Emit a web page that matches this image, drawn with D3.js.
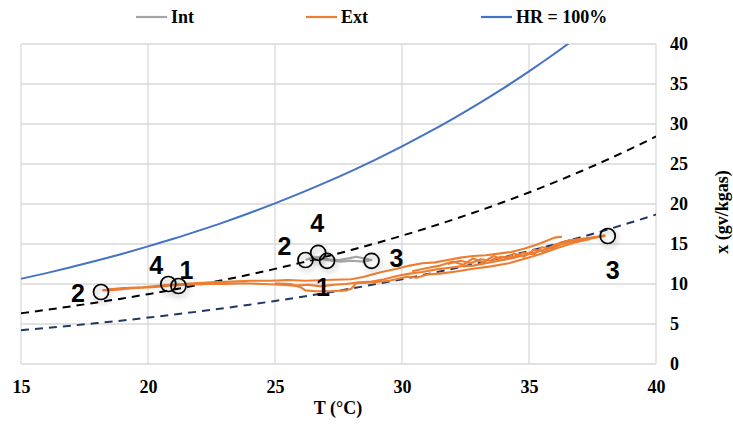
<!DOCTYPE html>
<html>
<head>
<meta charset="utf-8">
<script src="https://cdn.jsdelivr.net/npm/d3@7"></script>
<style>
  html, body { margin: 0; padding: 0; background: #fff; }
  svg { display: block; }
</style>
</head>
<body>
<svg id="chart" width="733" height="425"></svg>
<script>
// ---------- data ----------
const xTicks = [15, 20, 25, 30, 35, 40];
const yTicks = [0, 5, 10, 15, 20, 25, 30, 35, 40];
const legendLabels = ["Int", "Ext", "HR = 100%"];

// saturation curve HR = 100 % : [T, x]
const hr100 = [[15,10.65],[16,11.36],[17,12.13],[18,12.93],[19,13.79],[20,14.70],[21,15.65],[22,16.67],[23,17.74],[24,18.88],[25,20.08],[26,21.35],[27,22.70],[28,24.12],[29,25.62],[30,27.20],[31,28.88],[32,30.65],[33,32.52],[34,34.49],[35,36.58],[36,38.78],[37,41.11]];
// black dashed curve
const hrBlack = [[15,6.34],[16,6.77],[17,7.22],[18,7.70],[19,8.20],[20,8.73],[21,9.30],[22,9.90],[23,10.52],[24,11.19],[25,11.89],[26,12.64],[27,13.42],[28,14.25],[29,15.12],[30,16.04],[31,17.01],[32,18.04],[33,19.11],[34,20.25],[35,21.44],[36,22.70],[37,24.03],[38,25.42],[39,26.89],[40,28.44]];
// navy dashed curve
const hrNavy = [[15,4.22],[16,4.50],[17,4.80],[18,5.11],[19,5.44],[20,5.80],[21,6.17],[22,6.56],[23,6.98],[24,7.42],[25,7.88],[26,8.37],[27,8.88],[28,9.43],[29,10.00],[30,10.60],[31,11.24],[32,11.91],[33,12.61],[34,13.35],[35,14.13],[36,14.95],[37,15.81],[38,16.72],[39,17.68],[40,18.68]];

// interior trajectory (gray)
const intTrace = [[26.2,13.0],[26.5,13.3],[26.8,13.4],[27.1,13.1],[27.5,13.0],[27.9,13.2],[28.2,13.4],[28.5,13.2],[28.8,13.0],[28.5,12.8],[28.0,12.9],[27.6,12.8],[27.2,12.9],[26.9,13.1],[26.6,13.2],[26.3,13.1]];

// exterior trajectories (orange), several days
const extA = [[18.2,9.2],[18.8,9.3],[19.5,9.5],[20.2,9.6],[20.8,9.8],[21.5,9.9],[22.3,10.0],[23.0,10.0],[23.8,10.1],[24.5,10.0],[25.2,9.9],[25.8,9.8],[26.3,9.9],[26.8,9.7],[27.3,9.9],[27.8,10.0],[28.3,10.2],[28.8,10.3],[29.3,10.6],[29.8,11.0],[30.3,11.3],[30.8,11.5],[31.3,11.8],[31.8,12.0],[32.3,12.2],[32.8,12.3],[33.3,12.6],[33.8,12.9],[34.3,13.2],[34.8,13.6],[35.3,14.0],[35.8,14.5],[36.3,15.0],[36.8,15.4],[37.3,15.6],[37.8,15.9],[38.0,16.0]];
const extB = [[25.0,10.1],[25.6,10.0],[26.0,9.6],[26.2,9.2],[26.6,9.1],[27.2,9.1],[27.8,9.2],[28.0,9.4],[28.2,10.1],[28.8,10.2],[29.5,10.4],[30.2,10.9],[30.6,10.8],[31.0,11.2],[31.5,11.3],[32.2,11.6],[32.8,11.9],[33.5,12.2],[34.2,12.6],[35.0,13.3],[35.6,13.9],[36.2,14.6],[36.8,15.2],[37.4,15.6]];
const extC = [[18.4,9.3],[19.0,9.5],[19.8,9.6],[20.5,9.8],[21.0,9.9],[21.8,10.1],[22.5,10.2],[23.3,10.3],[24.0,10.4],[24.8,10.4],[25.5,10.5],[26.2,10.4],[27.0,10.5],[28.0,10.6],[28.5,10.9],[29.2,11.5],[29.8,11.9],[30.3,12.3],[30.8,12.6],[31.3,12.7],[31.8,13.0],[32.3,13.3],[32.8,13.5],[33.3,13.6],[33.8,13.8],[34.3,14.0],[34.8,14.4],[35.3,14.9],[35.7,15.4],[36.0,15.8],[36.3,15.9]];
const extD = [[30.4,11.6],[31.0,12.0],[31.5,12.3],[32.0,12.8],[32.4,12.4],[32.8,13.2],[33.2,12.7],[33.6,13.5],[34.0,13.0],[34.4,13.8],[34.8,13.4],[35.2,14.3],[35.6,14.0],[36.0,14.9],[36.4,15.3],[36.9,15.6],[37.5,15.8],[38.0,16.1]];
const extE = [[31.8,12.5],[32.3,12.9],[32.7,12.6],[33.1,13.1],[33.5,12.9],[33.9,13.4],[34.3,13.3],[34.8,13.9],[35.2,13.7],[35.5,14.6],[35.9,14.4],[36.3,15.1],[36.6,15.5],[37.0,15.4],[37.6,15.9]];
const extTraces = [extA, extB, extC, extD, extE];

// annotated points: [T, x, label, labelDx, labelDy]
const marks = [
  [18.15, 9.0, "2", -23, 1],
  [20.8, 10.0, "4", -12, -19],
  [21.2, 9.75, "1", 8, -16],
  [26.2, 13.0, "2", -21, -14],
  [26.7, 13.9, "4", -1, -30],
  [27.05, 12.9, "1", -4, 26],
  [28.8, 12.9, "3", 25, -3],
  [38.1, 16.0, "3", 5, 34]
];

// ---------- drawing ----------
const svg = d3.select("#chart");
const x = d3.scaleLinear().domain([15, 40]).range([21, 656]);
const y = d3.scaleLinear().domain([0, 40]).range([364, 44]);

const defs = svg.append("defs");
defs.append("clipPath").attr("id", "plotClip")
  .append("rect").attr("x", x(15)).attr("y", y(40)).attr("width", x(40) - x(15)).attr("height", y(0) - y(40));
const f = defs.append("filter").attr("id", "shadow").attr("x", "-60%").attr("y", "-60%").attr("width", "220%").attr("height", "220%");
f.append("feDropShadow").attr("dx", 1.5).attr("dy", 3).attr("stdDeviation", 2.5).attr("flood-color", "#000").attr("flood-opacity", 0.3);

// gridlines
const grid = svg.append("g");
grid.selectAll("line.v").data(xTicks).join("line")
  .attr("x1", d => x(d)).attr("x2", d => x(d)).attr("y1", y(0)).attr("y2", y(40))
  .attr("stroke", "#d9d9d9").attr("stroke-width", 1.3);
grid.selectAll("line.h").data(yTicks).join("line")
  .attr("x1", x(15)).attr("x2", x(40)).attr("y1", d => y(d)).attr("y2", d => y(d))
  .attr("stroke", "#d9d9d9").attr("stroke-width", 1.3);

// axes (labels only)
const font = "'Liberation Serif', 'Times New Roman', serif";
const xAxis = svg.append("g").attr("transform", `translate(0,${y(0)})`)
  .call(d3.axisBottom(x).tickValues(xTicks).tickSize(0).tickPadding(16).tickFormat(d3.format("d")));
const yAxis = svg.append("g").attr("transform", `translate(${x(40)},0)`)
  .call(d3.axisRight(y).tickValues(yTicks).tickSize(0).tickPadding(14).tickFormat(d3.format("d")));
[xAxis, yAxis].forEach(a => {
  a.select(".domain").remove();
  a.selectAll("text").attr("font-family", font).attr("font-weight", "bold").attr("font-size", 18).attr("fill", "#000");
});

svg.append("text").attr("x", 338).attr("y", 414).attr("text-anchor", "middle")
  .attr("font-family", font).attr("font-weight", "bold").attr("font-size", 18).text("T (°C)");
svg.append("text").attr("transform", "translate(724,212) rotate(-90)").attr("text-anchor", "middle")
  .attr("dominant-baseline", "middle")
  .attr("font-family", font).attr("font-weight", "bold").attr("font-size", 18).text("x (gv/kgas)");

// curves
const line = d3.line().x(d => x(d[0])).y(d => y(d[1]));
const smooth = d3.line().x(d => x(d[0])).y(d => y(d[1])).curve(d3.curveMonotoneX);
const plot = svg.append("g").attr("clip-path", "url(#plotClip)");

plot.append("path").datum(hrNavy).attr("d", smooth).attr("fill", "none")
  .attr("stroke", "#203864").attr("stroke-width", 2).attr("stroke-dasharray", "8,6");
plot.append("path").datum(hrBlack).attr("d", smooth).attr("fill", "none")
  .attr("stroke", "#000").attr("stroke-width", 2).attr("stroke-dasharray", "8,6");

plot.selectAll("path.ext").data(extTraces).join("path").attr("class", "ext")
  .attr("d", line).attr("fill", "none").attr("stroke", "#ED7D31").attr("stroke-width", 2.1)
  .attr("stroke-linejoin", "round");
plot.append("path").datum(intTrace).attr("d", line).attr("fill", "none")
  .attr("stroke", "#A5A5A5").attr("stroke-width", 2.1).attr("stroke-linejoin", "round");

plot.append("path").datum(hr100).attr("d", smooth).attr("fill", "none")
  .attr("stroke", "#4472C4").attr("stroke-width", 2);

// marked points
const mg = svg.append("g");
mg.selectAll("circle").data(marks).join("circle")
  .attr("cx", d => x(d[0])).attr("cy", d => y(d[1])).attr("r", 7.5)
  .attr("fill", "none").attr("stroke", "#000").attr("stroke-width", 1.7)
  .attr("filter", "url(#shadow)");
mg.selectAll("text").data(marks).join("text")
  .attr("x", d => x(d[0]) + d[3]).attr("y", d => y(d[1]) + d[4])
  .attr("text-anchor", "middle").attr("dominant-baseline", "central")
  .attr("font-family", "'Liberation Sans', Arial, sans-serif").attr("font-weight", "bold").attr("font-size", 25)
  .text(d => d[2]);

// legend
const legendColors = ["#A5A5A5", "#ED7D31", "#4472C4"];
const legendX = [136, 306, 481];
const lg = svg.append("g");
legendLabels.forEach((lab, i) => {
  lg.append("line").attr("x1", legendX[i]).attr("x2", legendX[i] + 31).attr("y1", 17).attr("y2", 17)
    .attr("stroke", legendColors[i]).attr("stroke-width", 2.2);
  lg.append("text").attr("x", legendX[i] + 35).attr("y", 17).attr("dominant-baseline", "central")
    .attr("font-family", font).attr("font-weight", "bold").attr("font-size", 18).text(lab);
});
</script>
</body>
</html>
